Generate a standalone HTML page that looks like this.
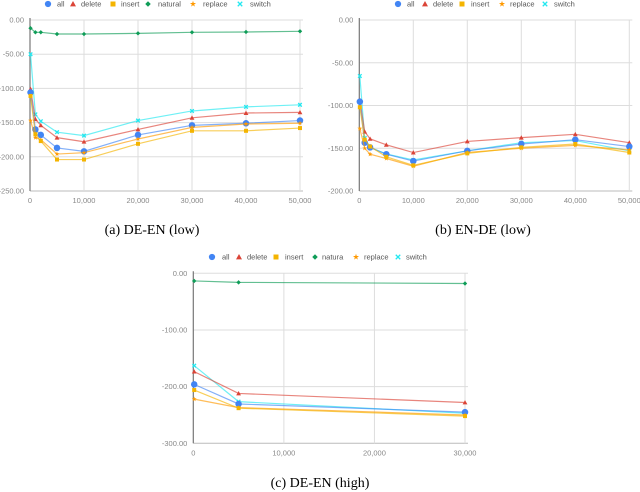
<!DOCTYPE html>
<html><head><meta charset="utf-8"><style>
html,body{margin:0;padding:0;background:#fff;width:640px;height:492px;overflow:hidden}
svg{display:block}
</style></head><body>
<svg id="root" width="640" height="492" xmlns="http://www.w3.org/2000/svg">
<text x="152" y="234" font-family="Liberation Serif, serif" font-size="14" text-anchor="middle" fill="#000">(a) DE-EN (low)</text>
<text x="483" y="234" font-family="Liberation Serif, serif" font-size="14" text-anchor="middle" fill="#000">(b) EN-DE (low)</text>
<text x="320" y="487" font-family="Liberation Serif, serif" font-size="14" text-anchor="middle" fill="#000">(c) DE-EN (high)</text>
</svg>
<script>
// ---- data ----
const xLow = [100, 1000, 2000, 5000, 10000, 20000, 30000, 40000, 50000];
const xHigh = [100, 5000, 30000];
const aAll = [-106, -160, -168, -187, -192, -168, -154, -151, -147];
const aDelete = [-101, -145, -154, -172, -178, -160, -143, -136, -135];
const aInsert = [-111, -167, -177, -204, -204, -181, -162, -162, -158];
const aNatural = [-12, -18, -18, -20.5, -20.5, -19.5, -18, -17.5, -16.5];
const aReplace = [-147, -172, -175, -196, -194, -174, -157, -152, -151];
const aSwitch = [-50, -138, -148, -164, -169, -147, -133, -127, -124];
const bAll = [-95.5, -143.5, -149, -157, -165, -153, -145, -140, -148];
const bDelete = [-93.6, -130.6, -139, -146, -155, -142, -137.6, -133.7, -143.5];
const bInsert = [-102, -140, -148, -160, -170, -156, -149, -145, -155];
const bReplace = [-127, -150, -157, -162, -171, -155, -150, -146.6, -152];
const bSwitch = [-65.5, -138, -149, -156.7, -163.7, -153, -143.5, -141, -153];
const cAll = [-196, -230.6, -245];
const cDelete = [-173.5, -212, -228];
const cInsert = [-206, -238, -252];
const cNatural = [-13.5, -16, -18];
const cReplace = [-222, -237, -250];
const cSwitch = [-163, -226.5, -247];
const yTicksA = [0, -50, -100, -150, -200, -250];
const yTicksB = [0, -50, -100, -150, -200];
const yTicksC = [0, -100, -200, -300];
const xTicksLow = [0, 10000, 20000, 30000, 40000, 50000];
const xTicksHigh = [0, 10000, 20000, 30000];

const NS = 'http://www.w3.org/2000/svg';
const root = document.getElementById('root');
const COL = {all:'#4285f4', delete:'#db4437', insert:'#f4b400', natural:'#0f9d58', replace:'#ff9900', switch:'#22e8f0'};
function mk(tag, attrs, parent){const e=document.createElementNS(NS,tag);for(const k in attrs)e.setAttribute(k,attrs[k]);(parent||root).appendChild(e);return e;}
function fmtY(v){return v.toFixed(2);}
function fmtX(v){return v.toLocaleString('en-US');}
function marker(g, kind, cx, cy, size){
  const c = COL[kind]; let e;
  if(kind==='all'){e=mk('circle',{cx:cx,cy:cy,r:size*1.25,fill:c},g);}
  else if(kind==='delete'){const s=size*1.2;e=mk('polygon',{points:`${cx},${cy-s} ${cx+s},${cy+s*0.8} ${cx-s},${cy+s*0.8}`,fill:c},g);}
  else if(kind==='insert'){const s=size;e=mk('rect',{x:cx-s,y:cy-s,width:2*s,height:2*s,fill:c},g);}
  else if(kind==='natural'){const s=size*1.1;e=mk('polygon',{points:`${cx},${cy-s} ${cx+s},${cy} ${cx},${cy+s} ${cx-s},${cy}`,fill:c},g);}
  else if(kind==='replace'){let p=[];for(let i=0;i<10;i++){const r=i%2?size*0.5:size*1.3;const a=-Math.PI/2+i*Math.PI/5;p.push((cx+r*Math.cos(a)).toFixed(2)+','+(cy+r*Math.sin(a)).toFixed(2));}e=mk('polygon',{points:p.join(' '),fill:c},g);}
  else {const s=size*0.9;e=mk('path',{d:`M${cx-s},${cy-s}L${cx+s},${cy+s}M${cx+s},${cy-s}L${cx-s},${cy+s}`,stroke:c,'stroke-width':1.3},g);}
  return e;
}
function chart(id, opt){
  const g = mk('g',{});
  
  
  const X = v => opt.x0 + (v-opt.xmin)/(opt.xmax-opt.xmin)*(opt.x1-opt.x0);
  const Y = v => opt.y0 + (v-opt.ymax)/(opt.ymin-opt.ymax)*(opt.y1-opt.y0);
  opt.yTicks.forEach(t=>{
    const l = mk('line',{x1:opt.x0,x2:opt.x1+3,y1:Y(t),y2:Y(t),stroke:t===opt.ymin?'#bbb':'#ddd','stroke-width':1},g);
    
    
    const tx = mk('text',{x:opt.x0-6,y:Y(t)+2.5,'font-size':7.5,'font-family':'Liberation Sans, sans-serif',fill:'#888','text-anchor':'end'},g);
    tx.textContent = fmtY(t);
    
    
  });
  opt.xTicks.forEach(t=>{
    if(t>0){const l=mk('line',{x1:X(t),x2:X(t),y1:opt.y0,y2:opt.y1,stroke:'#ddd','stroke-width':1},g);
      
      }
    const tx = mk('text',{x:X(t),y:opt.y1+12,'font-size':7.5,'font-family':'Liberation Sans, sans-serif',fill:'#888','text-anchor':'middle'},g);
    tx.textContent = fmtX(t);
    
    
  });
  const ax = mk('line',{x1:opt.x0,x2:opt.x0,y1:opt.y0-2,y2:opt.y1,stroke:'#777','stroke-width':1.2},g);
  
  
  opt.series.forEach(s=>{
    const sg = mk('g',{},g);
    
    
    const pts = s.vals.map((v,i)=>X(opt.xs[i]).toFixed(2)+','+Y(v).toFixed(2)).join(' ');
    const pl = mk('polyline',{points:pts,fill:'none',stroke:COL[s.kind],'stroke-width':1.2,'stroke-opacity':0.65},sg);
    
    
    s.vals.forEach((v,i)=>{
      const m = marker(sg, s.kind, X(opt.xs[i]), Y(v), s.kind==='all'?2.6:2);
      
      
    });
  });
  opt.legend.forEach(L=>{
    const lg = mk('g',{},g);
    
    
    marker(lg, L.kind, L.mx, opt.ly, 2.5);
    const t = mk('text',{x:L.tx,y:opt.ly+2.5,'font-size':7.5,'font-family':'Liberation Sans, sans-serif',fill:'#555'},lg);
    t.textContent = L.label;
  });
}
chart('a',{x0:30,x1:300,y0:20,y1:191,xmin:0,xmax:50000,ymax:0,ymin:-250,xs:xLow,yTicks:yTicksA,xTicks:xTicksLow,ly:4,
  series:[{kind:'natural',vals:aNatural},{kind:'switch',vals:aSwitch},{kind:'delete',vals:aDelete},{kind:'all',vals:aAll},{kind:'replace',vals:aReplace},{kind:'insert',vals:aInsert}],
  legend:[{kind:'all',mx:48,tx:57,label:'all'},{kind:'delete',mx:73,tx:81,label:'delete'},{kind:'insert',mx:113,tx:121,label:'insert'},{kind:'natural',mx:148,tx:158,label:'natural'},{kind:'replace',mx:193,tx:203,label:'replace'},{kind:'switch',mx:240,tx:250,label:'switch'}]});
chart('b',{x0:359.3,x1:629.3,y0:20,y1:191,xmin:0,xmax:50000,ymax:0,ymin:-200,xs:xLow,yTicks:yTicksB,xTicks:xTicksLow,ly:4,
  series:[{kind:'switch',vals:bSwitch},{kind:'delete',vals:bDelete},{kind:'all',vals:bAll},{kind:'replace',vals:bReplace},{kind:'insert',vals:bInsert}],
  legend:[{kind:'all',mx:398,tx:407,label:'all'},{kind:'delete',mx:425,tx:433,label:'delete'},{kind:'insert',mx:462,tx:471,label:'insert'},{kind:'replace',mx:502,tx:510,label:'replace'},{kind:'switch',mx:545,tx:554,label:'switch'}]});
chart('c',{x0:193.3,x1:465,y0:273.3,y1:443.3,xmin:0,xmax:30000,ymax:0,ymin:-300,xs:xHigh,yTicks:yTicksC,xTicks:xTicksHigh,ly:257,
  series:[{kind:'natural',vals:cNatural},{kind:'switch',vals:cSwitch},{kind:'delete',vals:cDelete},{kind:'all',vals:cAll},{kind:'replace',vals:cReplace},{kind:'insert',vals:cInsert}],
  legend:[{kind:'all',mx:212,tx:222,label:'all'},{kind:'delete',mx:239,tx:247,label:'delete'},{kind:'insert',mx:276,tx:285,label:'insert'},{kind:'natural',mx:315,tx:322,label:'natura'},{kind:'replace',mx:356,tx:364,label:'replace'},{kind:'switch',mx:398,tx:406,label:'switch'}]});
</script>
</body></html>
